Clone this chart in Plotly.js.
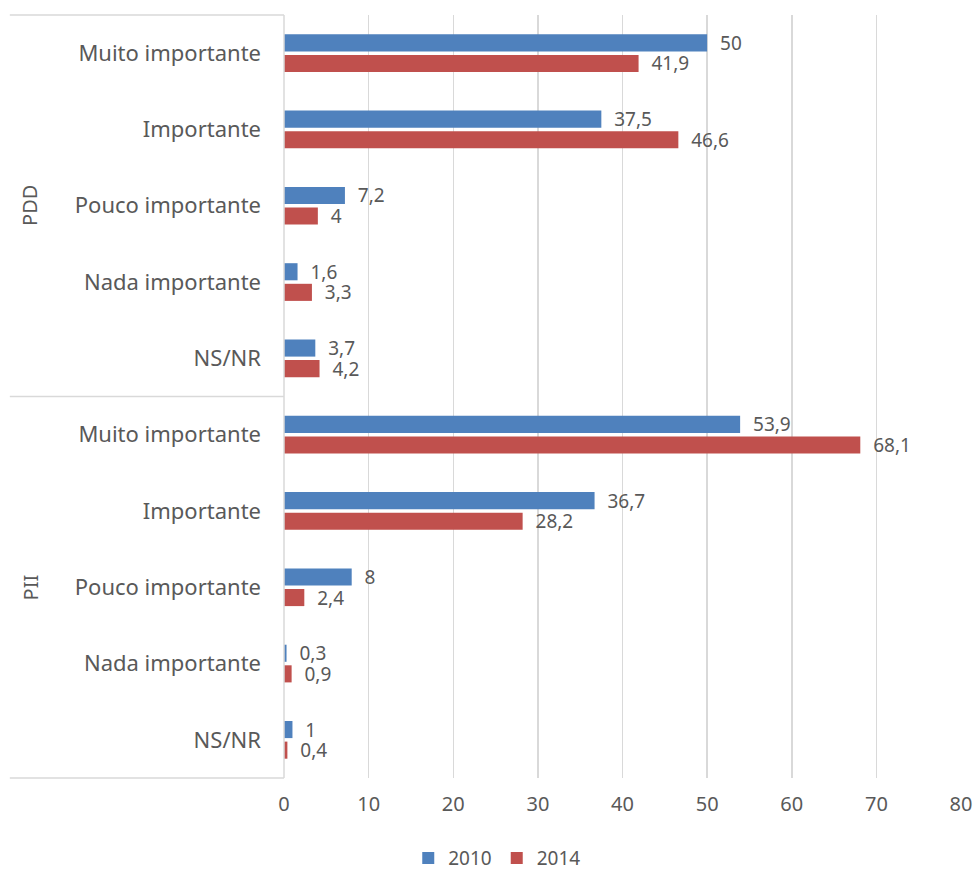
<!DOCTYPE html>
<html>
<head>
<meta charset="utf-8">
<script src="https://cdn.plot.ly/plotly-3.0.1.min.js"></script>
<style>html,body{margin:0;padding:0;background:#fff;}#chart{width:973px;height:874px;}</style>
</head>
<body>
<div id="chart"></div>
<script>
const groups = ["PDD", "PII"];
const categories = ["Muito importante", "Importante", "Pouco importante", "Nada importante", "NS/NR"];
const values2010 = [50, 37.5, 7.2, 1.6, 3.7, 53.9, 36.7, 8, 0.3, 1];
const values2014 = [41.9, 46.6, 4, 3.3, 4.2, 68.1, 28.2, 2.4, 0.9, 0.4];
const seriesNames = ["2010", "2014"];
const xTicks = [0, 10, 20, 30, 40, 50, 60, 70, 80];

const ids = [];
const labels = [];
groups.forEach(g => categories.forEach(c => { ids.push(g + "|" + c); labels.push(c); }));
const fmt = v => "\u00A0\u00A0" + String(v).replace(".", ",");

const font = "'Noto Sans', 'Open Sans', sans-serif";
const colors = ["#4F81BD", "#C0504D"];
const traces = [values2010, values2014].map((vals, i) => ({
  type: "bar",
  orientation: "h",
  name: seriesNames[i],
  y: ids,
  x: vals,
  text: vals.map(fmt),
  textposition: "outside",
  constraintext: "none",
  cliponaxis: false,
  textfont: {size: 19, color: "#595959", family: font},
  marker: {color: colors[i]},
  hoverinfo: "x+name"
}));

const lineColor = "#d9d9d9";
const shapes = [1, 0.5, 0].map(y => ({
  type: "line", xref: "paper", yref: "paper",
  x0: -0.405, x1: 0, y0: y, y1: y,
  line: {color: lineColor, width: 1.5}
}));
shapes.push({type: "line", xref: "paper", yref: "paper", x0: 0, x1: 0, y0: 0, y1: 1, line: {color: lineColor, width: 1.5}});

const annotations = groups.map((g, i) => ({
  text: g, xref: "paper", yref: "paper",
  x: -0.375, y: i === 0 ? 0.75 : 0.25,
  textangle: -90, showarrow: false,
  font: {size: 20, color: "#595959", family: font},
  xanchor: "center", yanchor: "middle"
}));

const layout = {
  width: 973, height: 874,
  margin: {l: 284, r: 12, t: 15, b: 96, autoexpand: false},
  paper_bgcolor: "#fff", plot_bgcolor: "#fff",
  font: {family: font, color: "#595959"},
  barmode: "group",
  bargap: 0.46,
  bargroupgap: 0.17,
  showlegend: true,
  legend: {orientation: "h", x: 0.315, xanchor: "center", y: -0.105, yanchor: "middle",
           font: {size: 19, color: "#595959"}, traceorder: "normal"},
  xaxis: {
    range: [0, 80], tickvals: xTicks, ticktext: xTicks.map(String),
    showgrid: true, gridcolor: lineColor, gridwidth: 1.5, zeroline: false,
    ticks: "", tickfont: {size: 20, color: "#595959"}, ticklabelstandoff: 12,
    automargin: false, fixedrange: true
  },
  yaxis: {
    type: "category", categoryorder: "array", categoryarray: ids,
    tickvals: ids, ticktext: labels, autorange: "reversed",
    showgrid: false, zeroline: false, ticks: "",
    tickfont: {size: 22, color: "#595959"}, ticklabelstandoff: 22,
    automargin: false, fixedrange: true
  },
  shapes: shapes,
  annotations: annotations
};

Plotly.newPlot("chart", traces, layout, {displayModeBar: false, staticPlot: true});
</script>
</body>
</html>
